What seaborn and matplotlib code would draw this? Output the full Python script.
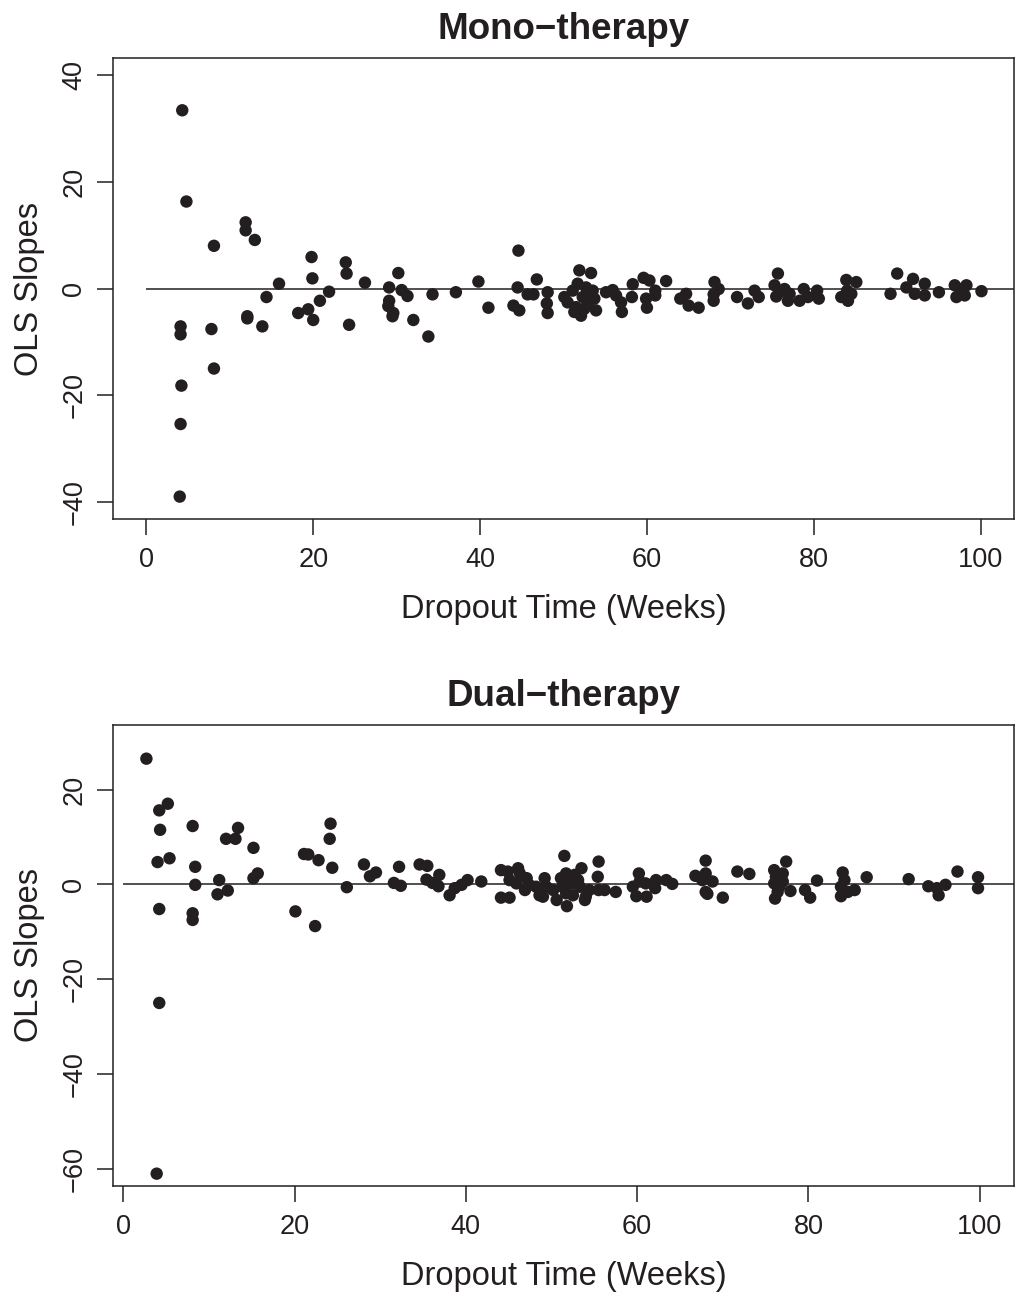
import matplotlib
matplotlib.use("Agg")
import matplotlib.pyplot as plt
import seaborn as sns
import pandas as pd

# ---------------- Mono-therapy data ----------------
mono_week = [4.3, 4.8, 11.9, 11.9, 13.0, 8.1, 19.8, 23.9, 24.0, 30.2, 19.9, 15.9, 26.2, 29.1,
             30.6, 31.3, 34.3, 21.9, 14.4, 20.8, 29.1, 29.0, 19.4, 18.2, 29.6, 29.5, 12.1, 12.1,
             20.0, 32.0, 13.9, 24.3, 7.8, 4.1, 4.1, 33.8, 8.1, 4.2, 4.1, 4.0,
             37.1, 39.8, 41.0, 44.6, 44.5, 44.0, 44.7, 46.8, 45.7, 46.4, 48.1, 48.0, 48.1,
             50.1, 50.5, 51.1, 51.3, 51.7, 51.9, 52.1, 52.3, 52.7, 52.9, 53.3, 53.5, 53.7, 53.9,
             51.5, 52.5, 53.1,
             55.1, 55.9, 56.3, 57.0, 56.9, 58.3, 58.2, 59.6, 60.3, 59.9, 60.0, 61.0, 61.0, 62.3,
             64.0, 64.7, 65.0, 66.2, 68.1, 68.6, 68.0, 68.0, 70.8,
             72.1, 72.9, 73.4, 75.7, 75.3, 75.9, 75.5, 76.5, 76.9, 77.1, 78.3, 78.8, 79.3, 80.4,
             80.6, 83.9, 85.1, 84.0, 83.3, 84.1, 84.5, 89.2, 90.0, 91.1, 91.9, 92.1, 93.3, 93.3,
             95.0, 96.9, 97.1, 97.7, 98.3, 98.1, 100.1]
mono_slope = [33.4, 16.3, 12.4, 10.9, 9.1, 8.0, 5.9, 4.9, 2.8, 2.9, 1.9, 0.9, 1.1, 0.2,
              -0.3, -1.4, -1.1, -0.6, -1.6, -2.3, -2.3, -3.3, -3.9, -4.6, -4.6, -5.2, -5.2, -5.6,
              -5.9, -5.9, -7.1, -6.8, -7.6, -7.1, -8.6, -9.0, -15.0, -18.2, -25.4, -39.0,
              -0.7, 1.3, -3.6, 7.1, 0.2, -3.2, -4.1, 1.7, -1.1, -1.1, -0.7, -2.8, -4.6,
              -1.6, -2.6, -0.4, -4.4, 0.9, 3.4, -5.1, -1.6, 0.2, -2.9, 2.9, -0.4, -1.9, -4.1,
              -3.5, -3.8, -1.3,
              -0.7, -0.3, -1.3, -4.4, -2.6, 0.8, -1.6, 2.0, 1.5, -1.9, -3.6, -0.4, -1.3, 1.4,
              -1.9, -1.0, -3.2, -3.6, 1.2, -0.1, -2.3, -1.1, -1.6,
              -2.8, -0.4, -1.6, 2.8, 0.6, -0.7, -1.5, -0.1, -2.3, -1.0, -2.3, -0.1, -1.6, -0.4,
              -1.9, 1.6, 1.2, -0.4, -1.6, -2.3, -1.0, -1.0, 2.8, 0.2, 1.8, -1.0, 0.9, -1.3,
              -0.7, 0.6, -1.6, -0.1, 0.6, -1.3, -0.5]

# ---------------- Dual-therapy data ----------------
dual_week = [2.7, 4.2, 5.2, 4.3, 4.0, 5.4, 4.2, 4.2, 3.9, 8.1, 8.4, 8.4, 8.1, 8.1,
             11.2, 11.0, 12.2, 12.0, 13.1, 13.4, 15.2, 15.2, 15.7, 20.1, 21.1, 21.6, 22.8, 22.4,
             24.2, 24.1, 24.4, 26.1, 28.1, 28.8, 29.5, 32.2, 31.6, 32.4, 34.6, 35.5, 35.4, 36.1,
             36.9, 36.8,
             38.1, 38.7, 39.5, 40.2, 41.8, 44.1, 44.9, 44.1, 45.1, 46.1, 46.3, 45.1, 45.9, 47.1,
             46.9, 47.4, 48.2, 48.6, 49.2, 49.4, 49.0, 50.2, 50.6, 51.5, 51.1, 51.7, 51.3, 51.7,
             51.8, 52.3, 52.5, 52.7, 53.1, 53.5, 53.3, 54.0, 53.9, 54.4, 55.5, 55.4, 55.5, 56.2,
             57.5, 59.5, 60.2, 60.3, 59.9, 61.1, 61.0, 62.1, 62.2, 63.4, 64.1, 66.8, 68.0, 68.0,
             67.6, 68.8, 68.0, 68.2, 70.0, 71.7,
             73.1, 76.0, 77.4, 76.2, 76.0, 77.0, 76.6, 76.4, 76.1, 77.0, 77.9, 79.6, 80.2, 81.0,
             84.0, 84.2, 83.8, 83.8, 84.6, 85.4, 86.8, 91.7, 94.0, 95.0, 95.2, 96.0, 97.4, 99.8,
             99.8]
dual_slope = [26.5, 15.6, 17.0, 11.5, 4.7, 5.5, -5.2, -25.0, -61.0, 12.3, 3.7, -0.1, -6.1, -7.5,
              0.9, -2.1, -1.3, 9.6, 9.6, 11.9, 7.7, 1.3, 2.3, -5.7, 6.4, 6.3, 5.1, -8.8,
              12.8, 9.6, 3.5, -0.6, 4.2, 1.7, 2.5, 3.7, 0.3, -0.3, 4.2, 3.9, 1.0, 0.3,
              2.0, -0.4,
              -2.3, -0.8, -0.1, 0.9, 0.6, 3.0, 2.7, -2.8, -2.8, 3.4, 2.3, 0.9, 0.2, 1.3,
              -1.2, -0.1, -0.5, -2.3, 1.3, -0.5, -2.6, -1.2, -3.3, 6.0, 1.3, 2.3, -0.5, -1.9,
              -4.6, 0.2, -2.3, 2.0, 0.9, 3.4, -0.5, -2.6, -3.3, -1.2, 4.8, 1.6, -1.2, -1.2,
              -1.6, -0.5, 2.3, 0.6, -2.5, -2.6, 0.2, -0.8, 0.9, 0.9, 0.1, 1.8, 5.0, 2.3,
              0.9, 0.6, -1.6, -2.0, -2.8, 2.7,
              2.2, 3.0, 4.8, 1.6, 0.2, 2.3, -0.5, -1.6, -3.0, 0.6, -1.4, -1.2, -2.8, 0.8,
              2.5, 0.9, -0.5, -2.5, -1.6, -1.2, 1.5, 1.1, -0.4, -0.8, -2.3, -0.1, 2.7, 1.5,
              -0.8]

titles = ["Mono\u2212therapy", "Dual\u2212therapy"]
x_label = "Dropout Time (Weeks)"
y_label = "OLS Slopes"
mono_yticks = [-40, -20, 0, 20, 40]
dual_yticks = [-60, -40, -20, 0, 20]
xticks = [0, 20, 40, 60, 80, 100]

sns.set_theme(style="ticks")
plt.rcParams['font.family'] = ['Liberation Sans', 'DejaVu Sans']

W, H = 1016, 1294
fig = plt.figure(figsize=(W / 100, H / 100), dpi=100)
ax1 = fig.add_axes([113 / W, 1 - 519 / H, 901 / W, 461 / H])
ax2 = fig.add_axes([113 / W, 1 - 1186 / H, 901 / W, 461 / H])

dot = '#231F20'
panels = [
    (ax1, pd.DataFrame({"week": mono_week, "slope": mono_slope}), titles[0], mono_yticks,
     (-4, 104), (-43.2, 43.2)),
    (ax2, pd.DataFrame({"week": dual_week, "slope": dual_slope}), titles[1], dual_yticks,
     (-1.2, 104.0), (-63.6, 33.6)),
]

for ax, df, title, yt, xl, yl in panels:
    sns.scatterplot(data=df, x="week", y="slope", ax=ax, color=dot, s=80,
                    edgecolor='none', linewidth=0, zorder=3)
    ax.hlines(0, 0, xl[1], color=dot, linewidth=1.1, zorder=2)
    ax.set_xlim(*xl)
    ax.set_ylim(*yl)
    ax.set_xticks(xticks)
    ax.set_yticks(yt)
    ax.set_xticklabels([str(v) for v in xticks])
    ax.set_yticklabels([str(v).replace('-', '\u2212') for v in yt], rotation=90, va='center')
    ax.tick_params(axis='both', labelsize=19.5, length=11.5, width=1.1, color=dot,
                   labelcolor=dot, direction='out')
    ax.tick_params(axis='x', pad=9)
    ax.tick_params(axis='y', pad=7)
    for sp in ax.spines.values():
        sp.set_visible(True)
        sp.set_linewidth(1.1)
        sp.set_color(dot)
    ax.set_xlabel(x_label, fontsize=23.5, color=dot, labelpad=15)
    ax.set_ylabel(y_label, fontsize=23.5, color=dot, labelpad=12)
    ax.set_title(title, fontsize=26.5, fontweight='bold', color=dot, pad=14)
    ax.grid(False)
    ax.set_facecolor('white')

fig.patch.set_facecolor('white')
fig.savefig("out.png", dpi=100, facecolor='white')
